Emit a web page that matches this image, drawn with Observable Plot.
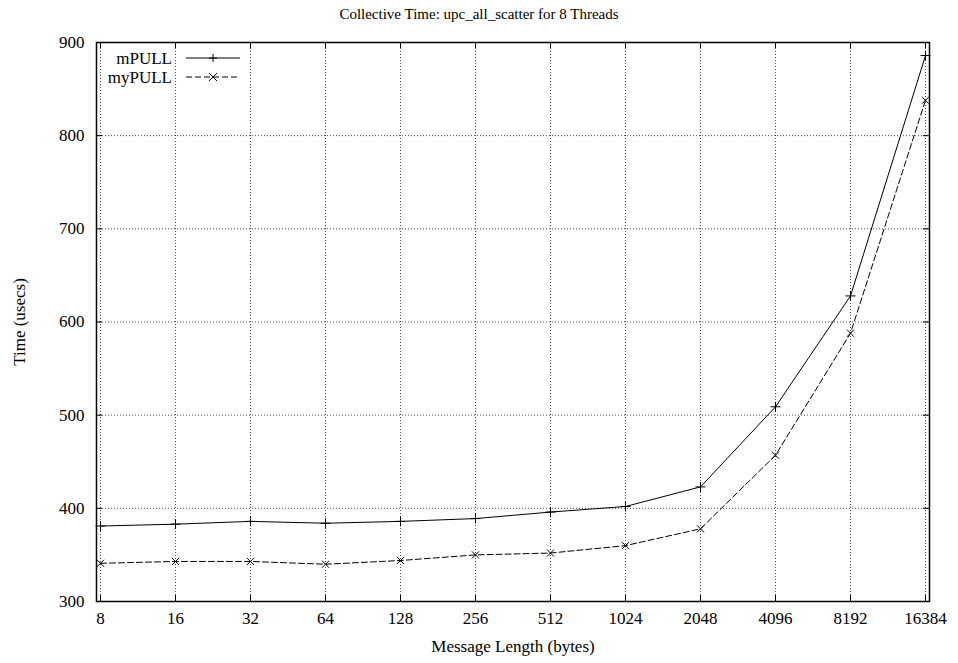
<!DOCTYPE html>
<html>
<head>
<meta charset="utf-8">
<script src="https://cdn.jsdelivr.net/npm/d3@7"></script>
<script src="https://cdn.jsdelivr.net/npm/@observablehq/plot@0.6"></script>
<style>
  body { margin: 0; background: #fff; }
  #wrap { position: relative; width: 958px; height: 663px; font-family: "Liberation Serif", "Times New Roman", serif; }
  #title { height: 28px; line-height: 28px; text-align: center; font-size: 15px; color: #000; }
  #legend { position: absolute; left: 0; top: 0; }
</style>
</head>
<body>
<div id="wrap">
  <div id="title"></div>
  <div id="chart"></div>
  <svg id="legend" width="260" height="90"></svg>
</div>
<script>
const title = "Collective Time: upc_all_scatter for 8 Threads";
const sizes = ["8","16","32","64","128","256","512","1024","2048","4096","8192","16384"];
const mPULL = [381,383,386,384,386,389,396,402,423,509,628,886];
const myPULL = [341,343,343,340,344,350,352,360,378,457,588,838];
const yTicks = [300,400,500,600,700,800,900];
const seriesNames = ["mPULL", "myPULL"];
const xLabel = "Message Length (bytes)";
const yLabel = "Time (usecs)";

document.getElementById("title").textContent = title;

const rowsA = sizes.map((s, i) => ({size: s, value: mPULL[i]}));
const rowsB = sizes.map((s, i) => ({size: s, value: myPULL[i]}));

const W = 958, H = 635, mT = 14, mB = 62, mL = 96, mR = 29;
const plotH = H - mT - mB, plotW = W - mL - mR;
const font = "Liberation Serif, Times New Roman, serif";

const chart = Plot.plot({
  width: W,
  height: H,
  marginTop: mT,
  marginBottom: mB,
  marginLeft: mL,
  marginRight: mR,
  style: {fontFamily: font, fontSize: "17px", color: "#000", background: "#fff"},
  x: {type: "point", domain: sizes, padding: 0},
  y: {domain: [300, 900]},
  marks: [
    Plot.gridX(sizes, {stroke: "#000", strokeOpacity: 0.7, strokeDasharray: "1,2", strokeWidth: 1}),
    Plot.gridY(yTicks, {stroke: "#000", strokeOpacity: 0.7, strokeDasharray: "1,2", strokeWidth: 1}),
    // inward ticks (bottom, top, left, right)
    Plot.ruleX(sizes, {x: d => d, insetTop: plotH - 6, stroke: "#000"}),
    Plot.ruleX(sizes, {x: d => d, insetBottom: plotH - 6, stroke: "#000"}),
    Plot.ruleY(yTicks, {y: d => d, insetRight: plotW - 6, stroke: "#000"}),
    Plot.ruleY(yTicks, {y: d => d, insetLeft: plotW - 6, stroke: "#000"}),
    Plot.axisX(sizes, {tickSize: 0, tickPadding: 10, label: xLabel, labelAnchor: "center", labelOffset: 50, labelArrow: "none", fontSize: 17}),
    Plot.axisY(yTicks, {tickSize: 0, tickPadding: 12, label: yLabel, labelAnchor: "center", labelOffset: 84, labelArrow: "none", fontSize: 17}),
    Plot.line(rowsA, {x: "size", y: "value", stroke: "#000", strokeWidth: 1}),
    Plot.dot(rowsA, {x: "size", y: "value", symbol: "plus", r: 3.3, stroke: "#000", strokeWidth: 1}),
    Plot.line(rowsB, {x: "size", y: "value", stroke: "#000", strokeWidth: 1, strokeDasharray: "6,3"}),
    Plot.dot(rowsB, {x: "size", y: "value", symbol: "times", r: 3.3, stroke: "#000", strokeWidth: 1}),
    Plot.frame({stroke: "#000", strokeWidth: 1.5})
  ]
});
document.getElementById("chart").appendChild(chart);

// legend overlay
const lg = d3.select("#legend");
const rows = [
  {name: seriesNames[0], y: 58, dash: null, sym: "plus"},
  {name: seriesNames[1], y: 77, dash: "6,3", sym: "times"}
];
rows.forEach(r => {
  lg.append("text").attr("x", 172).attr("y", r.y).attr("dy", "0.35em")
    .attr("text-anchor", "end").attr("font-family", font).attr("font-size", 17).text(r.name);
  lg.append("line").attr("x1", 186).attr("x2", 240).attr("y1", r.y).attr("y2", r.y)
    .attr("stroke", "#000").attr("stroke-dasharray", r.dash);
  const s = 4;
  if (r.sym === "plus") {
    lg.append("path").attr("d", `M${213 - s},${r.y}h${2 * s}M213,${r.y - s}v${2 * s}`).attr("stroke", "#000");
  } else {
    const k = s;
    lg.append("path").attr("d", `M${213 - k},${r.y - k}L${213 + k},${r.y + k}M${213 - k},${r.y + k}L${213 + k},${r.y - k}`).attr("stroke", "#000");
  }
});
</script>
</body>
</html>
